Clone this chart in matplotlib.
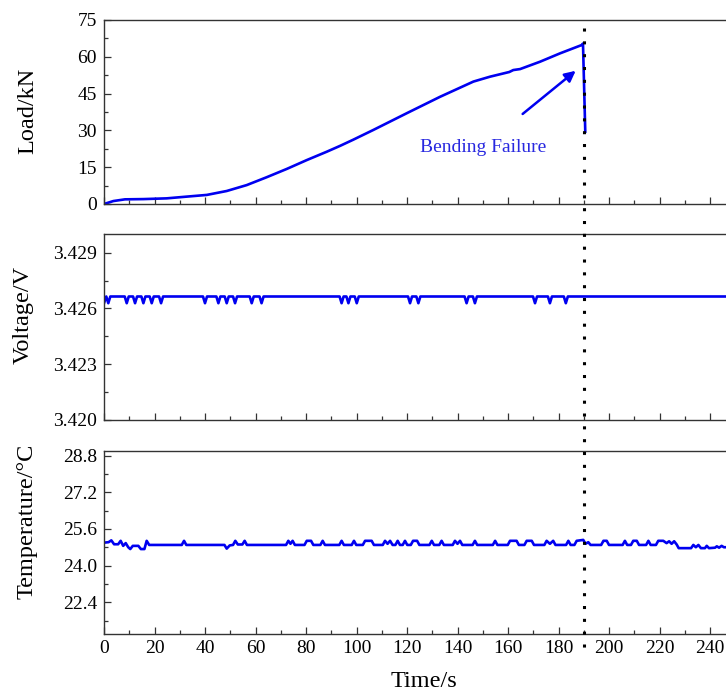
import matplotlib
matplotlib.use('Agg')
import matplotlib.pyplot as plt
from matplotlib.ticker import MultipleLocator, FormatStrFormatter
import matplotlib.transforms as mtransforms
from matplotlib.lines import Line2D

plt.rcParams['font.family'] = ['Liberation Serif', 'DejaVu Serif']

# ---------------- data ----------------
load_t = [0, 3.7, 8.3, 15.6, 24.8, 32.7, 40.7, 48.6, 56.5, 64.4, 72.4, 80.3, 88.2,
          93.5, 98.7, 106.7, 119.9, 133.1, 146.3, 152.9, 160.5, 162.1, 164.8,
          172.7, 180.6, 189.2, 189.7, 190.6]
load_v = [0, 1.2, 1.9, 2.0, 2.3, 3.0, 3.7, 5.3, 7.7, 10.9, 14.3, 17.9, 21.3,
          23.7, 26.2, 30.2, 37.0, 43.7, 49.9, 51.9, 53.8, 54.6, 55.0,
          58.0, 61.4, 64.8, 65.4, 29.5]

volt_t = [0, 0.9, 1.7, 2.5,
          8.2, 9.0, 9.8, 11.5, 12.3, 13.1, 14.8, 15.6, 16.4, 18.1, 18.9, 19.7, 21.8, 22.6, 23.4,
          39.2, 40.0, 40.8, 44.5, 45.3, 46.1, 47.8, 48.6, 49.4, 51.1, 51.9, 52.7,
          57.7, 58.5, 59.3, 61.6, 62.4, 63.2,
          93.3, 94.1, 94.9, 96.0, 96.8, 97.6, 99.3, 100.1, 100.9,
          120.4, 121.2, 122.0, 123.7, 124.5, 125.3,
          142.8, 143.6, 144.4, 146.1, 146.9, 147.7,
          169.9, 170.7, 171.5, 175.8, 176.6, 177.4, 182.1, 182.9, 183.7,
          260]
volt_v = [3.42628, 3.42664, 3.42628, 3.42664,
          3.42664, 3.42628, 3.42664, 3.42664, 3.42628, 3.42664, 3.42664, 3.42628, 3.42664,
          3.42664, 3.42628, 3.42664, 3.42664, 3.42628, 3.42664,
          3.42664, 3.42628, 3.42664, 3.42664, 3.42628, 3.42664, 3.42664, 3.42628, 3.42664,
          3.42664, 3.42628, 3.42664,
          3.42664, 3.42628, 3.42664, 3.42664, 3.42628, 3.42664,
          3.42664, 3.42628, 3.42664, 3.42664, 3.42628, 3.42664, 3.42664, 3.42628, 3.42664,
          3.42664, 3.42628, 3.42664, 3.42664, 3.42628, 3.42664,
          3.42664, 3.42628, 3.42664, 3.42664, 3.42628, 3.42664,
          3.42664, 3.42628, 3.42664, 3.42664, 3.42628, 3.42664, 3.42664, 3.42628, 3.42664,
          3.42664]

temp_t = [0, 1.8, 2.9, 4.0, 5.6, 6.6, 7.6, 8.6, 9.6, 10.4, 11.4, 13.6, 14.6, 16.0, 16.9, 17.9,
          30.8, 31.7, 32.6,
          47.7, 48.6, 49.8, 51.1, 52.0, 53.0, 54.8, 55.7, 56.6,
          72.1, 73.0, 73.85, 74.7, 75.6,
          79.4, 80.3, 82.0, 82.9,
          85.7, 86.6, 87.5,
          93.2, 94.1, 95.0,
          98.1, 99.0, 99.9,
          102.5, 103.4, 106.0, 106.9,
          110.4, 111.3, 112.3, 113.3, 114.3, 115.4, 116.3, 117.2, 118.3, 119.2, 120.1,
          121.5, 122.4, 124.0, 124.9,
          128.9, 129.8, 130.7,
          132.8, 133.7, 134.6,
          138.1, 139.0, 140.0, 141.0, 141.9,
          146.0, 146.9, 147.8,
          154.0, 154.9, 155.8,
          159.9, 160.8, 163.4, 164.3,
          166.5, 167.4, 169.4, 170.3,
          174.4, 175.3, 176.6, 177.9, 178.8,
          183.0, 183.9, 184.8,
          186.3, 187.2, 189.8, 190.7, 191.8, 192.7,
          196.9, 197.8, 199.1, 200.0,
          205.4, 206.3, 207.2,
          208.7, 209.6, 211.0, 211.9,
          214.7, 215.6, 216.5,
          218.6, 219.5, 221.5, 222.8, 223.8, 224.8, 225.8, 226.8, 227.6,
          232.5, 233.4, 234.4, 235.4, 236.4, 238.0, 238.7, 239.6, 242.0, 242.7, 243.6,
          244.6, 245.5, 260]
temp_v = [25.0, 25.02, 25.1, 24.93, 24.93, 25.08, 24.86, 24.98, 24.8, 24.72, 24.86, 24.86,
          24.72, 24.72, 25.08, 24.9,
          24.9, 25.08, 24.9,
          24.9, 24.74, 24.88, 24.9, 25.08, 24.92, 24.92, 25.08, 24.9,
          24.9, 25.08, 24.95, 25.08, 24.9,
          24.9, 25.08, 25.08, 24.9,
          24.9, 25.08, 24.9,
          24.9, 25.08, 24.9,
          24.9, 25.08, 24.9,
          24.9, 25.08, 25.08, 24.9,
          24.9, 25.08, 24.95, 25.08, 24.9, 24.9, 25.08, 24.9, 24.9, 25.08, 24.9,
          24.9, 25.08, 25.08, 24.9,
          24.9, 25.08, 24.9,
          24.9, 25.08, 24.9,
          24.9, 25.08, 24.95, 25.08, 24.9,
          24.9, 25.08, 24.9,
          24.9, 25.08, 24.9,
          24.9, 25.08, 25.08, 24.9,
          24.9, 25.08, 25.08, 24.9,
          24.9, 25.08, 24.95, 25.08, 24.9,
          24.9, 25.08, 24.9,
          24.9, 25.08, 25.12, 24.95, 25.02, 24.9,
          24.9, 25.08, 25.08, 24.9,
          24.9, 25.08, 24.9,
          24.9, 25.08, 25.08, 24.9,
          24.9, 25.08, 24.9,
          24.9, 25.08, 25.08, 24.98, 25.06, 24.95, 25.06, 24.92, 24.76,
          24.76, 24.9, 24.8, 24.9, 24.76, 24.76, 24.86, 24.76, 24.78, 24.84, 24.78,
          24.86, 24.8, 24.8]

failure_time = 190
load_ticks = [0, 15, 30, 45, 60, 75]
volt_ticks = [3.420, 3.423, 3.426, 3.429]
temp_ticks = [22.4, 24.0, 25.6, 27.2, 28.8]

# ---------------- figure ----------------
W, H = 726, 693
fig = plt.figure(figsize=(W / 100, H / 100), dpi=100)

LINE = '#0000f0'
SPINE = '#333333'
x_left = 104
x_right = 104 + 260 * 2.525


def px_axes(top, bottom):
    return fig.add_axes([x_left / W, 1 - bottom / H, (x_right - x_left) / W, (bottom - top) / H])


ax1 = px_axes(20, 204)
ax2 = px_axes(234, 420)
ax3 = px_axes(451, 634.3)

ax1.plot(load_t, load_v, color=LINE, lw=1.9, solid_joinstyle='round')
ax2.plot(volt_t, volt_v, color=LINE, lw=1.9, solid_joinstyle='round')
ax3.plot(temp_t, temp_v, color=LINE, lw=1.9, solid_joinstyle='round')

ax1.set_ylim(0, 75)
ax1.set_yticks(load_ticks)
ax1.yaxis.set_minor_locator(MultipleLocator(7.5))
ax2.set_ylim(3.420, 3.430)
ax2.set_yticks(volt_ticks)
ax2.yaxis.set_minor_locator(MultipleLocator(0.0015))
ax2.yaxis.set_major_formatter(FormatStrFormatter('%.3f'))
ax3.set_ylim(21.0, 29.0)
ax3.set_yticks(temp_ticks)
ax3.yaxis.set_minor_locator(MultipleLocator(0.8))
ax3.yaxis.set_major_formatter(FormatStrFormatter('%.1f'))

for ax in (ax1, ax2, ax3):
    ax.set_xlim(0, 260)
    ax.xaxis.set_major_locator(MultipleLocator(20))
    ax.xaxis.set_minor_locator(MultipleLocator(10))
    ax.tick_params(which='both', direction='in', top=False, right=False,
                   color=SPINE, width=0.9, labelsize=14)
    ax.tick_params(which='major', length=5)
    ax.tick_params(which='minor', length=3)
    ax.tick_params(axis='y', pad=5)
    ax.tick_params(axis='x', pad=4)
    for s in ax.spines.values():
        s.set_color(SPINE)
        s.set_linewidth(1.0)
for ax in (ax1, ax2):
    ax.tick_params(labelbottom=False)

# annotation
ax1.annotate('', xy=(186.8, 54.3), xytext=(165.8, 36.7),
             arrowprops=dict(arrowstyle='-|>', color=LINE, lw=1.8, mutation_scale=16,
                             shrinkA=0, shrinkB=0))
ax1.text(150.3, 23.0, 'Bending Failure', color='#2828e0', fontsize=14,
         ha='center', va='center')

# dotted failure line across all panels
trans = mtransforms.blended_transform_factory(ax3.transData, fig.transFigure)
fig.add_artist(Line2D([failure_time, failure_time], [1 - 28 / H, 1 - 652 / H],
                      transform=trans, color='black', lw=2.2,
                      linestyle=(0, (1, 3.2)), clip_on=False))

# axis labels
lab_kw = dict(rotation=90, rotation_mode='anchor', ha='center', va='baseline', fontsize=17.5)
fig.text(33 / W, 1 - 111 / H, 'Load/kN', **lab_kw)
fig.text(29 / W, 1 - 315 / H, 'Voltage/V', **lab_kw)
fig.text(33 / W, 1 - 521 / H, 'Temperature/°C', **lab_kw)
fig.text(424 / W, 1 - 687 / H, 'Time/s', ha='center', va='baseline', fontsize=17.5)

fig.savefig('out.png', dpi=100)
